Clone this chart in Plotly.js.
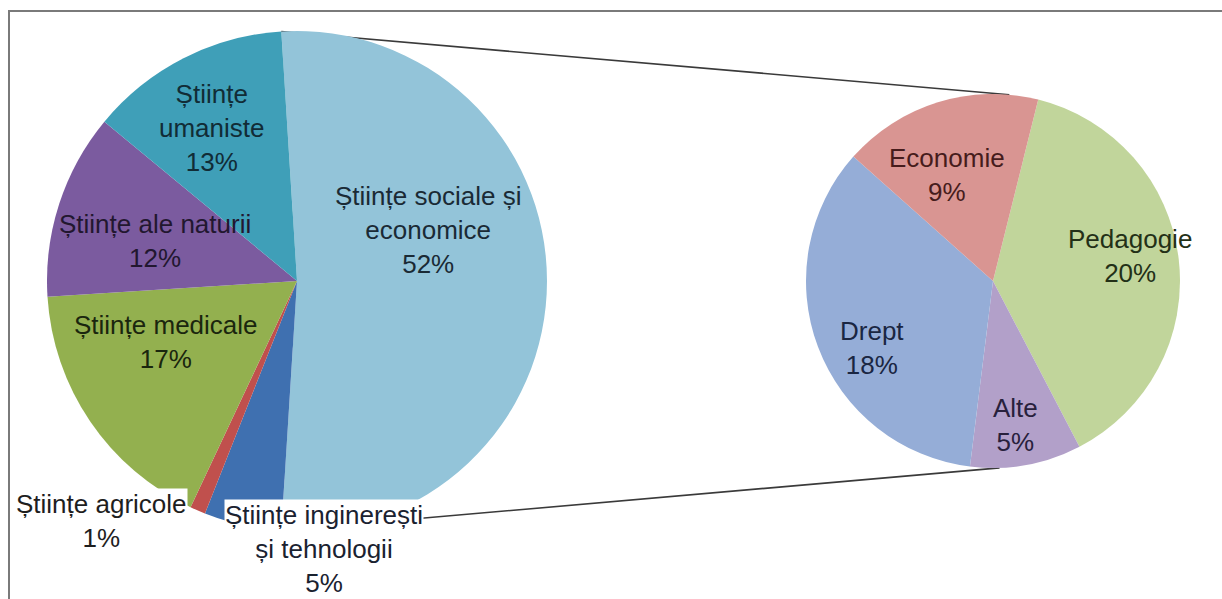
<!DOCTYPE html>
<html>
<head>
<meta charset="utf-8">
<script src="https://cdn.plot.ly/plotly-3.0.1.min.js"></script>
<style>
  html, body { margin: 0; padding: 0; background: #ffffff; }
  #chart { width: 1222px; height: 599px; }
</style>
</head>
<body>
<div id="chart"></div>
<script>
// ---- data ----
const leftLabels = ['Științe sociale și economice', 'Științe inginerești și tehnologii', 'Științe agricole', 'Științe medicale', 'Științe ale naturii', 'Științe umaniste'];
const leftTextLines = ['Științe sociale și<br>economice', 'Științe inginerești<br>și tehnologii', 'Științe agricole', 'Științe medicale', 'Științe ale naturii', 'Științe<br>umaniste'];
const leftValues = [52, 5, 1, 17, 12, 13];

const rightLabels = ['Pedagogie', 'Alte', 'Drept', 'Economie'];
const rightValues = [20, 5, 18, 9];

// ---- styles ----
const leftColors = ['#93c4d9', '#3f70b0', '#c0504d', '#93b04f', '#7b5b9f', '#3f9fb8'];
const rightColors = ['#c1d59b', '#b2a0c9', '#95add7', '#d99592'];
const leftTextColors = ['#1a2a35', '#1a2230', '#1e1e1e', '#1a260e', '#22172f', '#112c36'];
const rightTextColors = ['#233017', '#28213c', '#1a2642', '#461c1c'];

const W = 1222, H = 599;
// pie geometry (pixels)
const L = {cx: 297, cy: 281, r: 250};
const R = {cx: 993, cy: 281, r: 187};
// label block centres (pixels)
const leftLabelPos = [[428, 230], [324, 549], [101, 521], [166, 342], [155, 241], [212, 128]];
const rightLabelPos = [[1130, 256], [1015, 425], [872, 348], [947, 175]];

function domainOf(p) {
  return {
    x: [(p.cx - p.r) / W, (p.cx + p.r) / W],
    y: [(H - p.cy - p.r) / H, (H - p.cy + p.r) / H]
  };
}
function px(x) { return x / W; }
function py(y) { return 1 - y / H; }

const data = [
  {
    type: 'pie', labels: leftLabels, values: leftValues, sort: false,
    direction: 'clockwise', rotation: -3.6, domain: domainOf(L),
    marker: {colors: leftColors, line: {width: 0}},
    textinfo: 'none', hoverinfo: 'label+percent', showlegend: false
  },
  {
    type: 'pie', labels: rightLabels, values: rightValues, sort: false,
    direction: 'clockwise', rotation: 14, domain: domainOf(R),
    marker: {colors: rightColors, line: {width: 0}},
    textinfo: 'none', hoverinfo: 'label+value', showlegend: false
  }
];

const total = leftValues.reduce((a, b) => a + b, 0);
const annotations = [];
leftValues.forEach((v, i) => {
  const pct = Math.round(v / total * 100);
  annotations.push({
    xref: 'paper', yref: 'paper', x: px(leftLabelPos[i][0]), y: py(leftLabelPos[i][1]),
    xanchor: 'center', yanchor: 'middle', align: 'center', showarrow: false,
    text: leftTextLines[i] + '<br>' + pct + '%',
    font: {family: 'Liberation Sans, Arial, sans-serif', size: 26, color: leftTextColors[i]},
    bgcolor: (i === 1 || i === 2) ? '#ffffff' : 'rgba(0,0,0,0)', borderpad: 0
  });
});
rightValues.forEach((v, i) => {
  const pct = Math.round(v / total * 100);
  annotations.push({
    xref: 'paper', yref: 'paper', x: px(rightLabelPos[i][0]), y: py(rightLabelPos[i][1]),
    xanchor: 'center', yanchor: 'middle', align: 'center', showarrow: false,
    text: rightLabels[i] + '<br>' + pct + '%',
    font: {family: 'Liberation Sans, Arial, sans-serif', size: 26, color: rightTextColors[i]}
  });
});

// connector lines from the split edges of the big slice to the secondary pie
const leftStartDeg = -3.6;
const leftEndDeg = leftStartDeg + leftValues[0] / total * 360;
function onCircle(p, deg) {
  const a = deg * Math.PI / 180;
  return [p.cx + p.r * Math.sin(a), p.cy - p.r * Math.cos(a)];
}
const a1 = onCircle(L, leftStartDeg), a2 = onCircle(L, leftEndDeg);
const b1 = onCircle(R, 5), b2 = onCircle(R, 178);

const shapes = [
  {type: 'rect', xref: 'paper', yref: 'paper', x0: px(9), x1: px(1260), y0: py(640), y1: py(11),
   line: {color: '#7a7a7a', width: 2}, fillcolor: 'rgba(0,0,0,0)', layer: 'below'},
  {type: 'line', xref: 'paper', yref: 'paper', x0: px(a1[0]), y0: py(a1[1]), x1: px(b1[0]), y1: py(b1[1]),
   line: {color: '#3a3a3a', width: 1.6}, layer: 'below'},
  {type: 'line', xref: 'paper', yref: 'paper', x0: px(a2[0]), y0: py(a2[1]), x1: px(b2[0]), y1: py(b2[1]),
   line: {color: '#3a3a3a', width: 1.6}, layer: 'below'}
];

const layout = {
  width: W, height: H,
  margin: {l: 0, r: 0, t: 0, b: 0},
  paper_bgcolor: '#ffffff', plot_bgcolor: '#ffffff',
  showlegend: false,
  annotations: annotations,
  shapes: shapes
};

Plotly.newPlot('chart', data, layout, {displayModeBar: false, staticPlot: true});
</script>
</body>
</html>
